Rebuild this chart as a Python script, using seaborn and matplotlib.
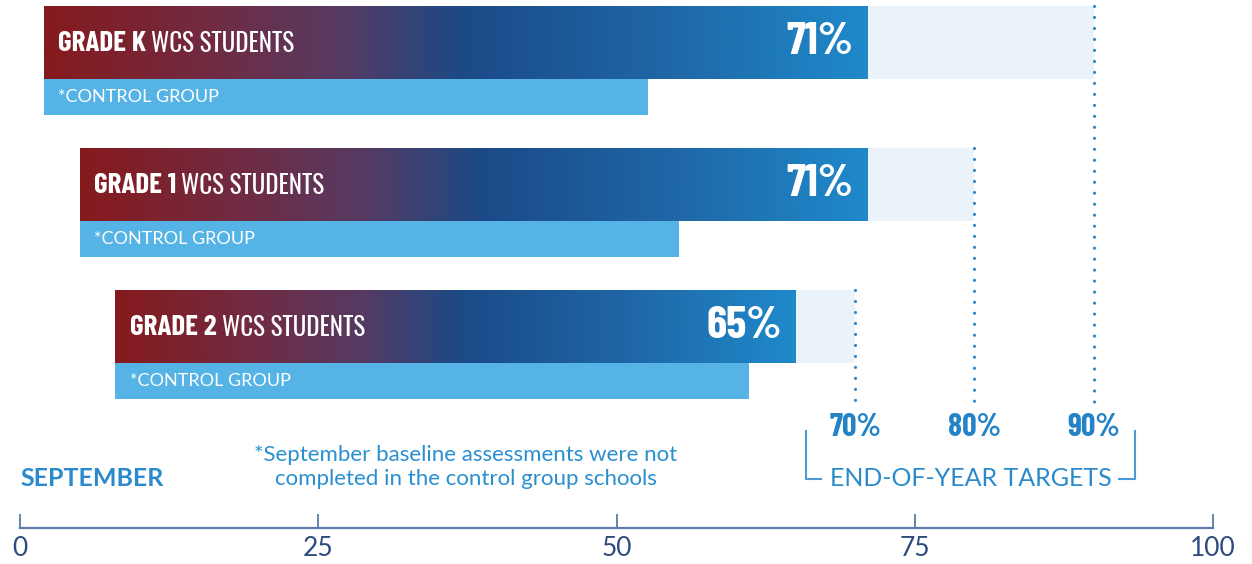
import numpy as np
import pandas as pd
import seaborn as sns
import matplotlib
matplotlib.use("Agg")
import matplotlib.pyplot as plt
from matplotlib import font_manager
from matplotlib.colors import LinearSegmentedColormap

# ---- data ----
grades = ["GRADE K", "GRADE 1", "GRADE 2"]
sept_start = [2, 5, 8]            # September baseline (bar start)
wcs_eoy = [71, 71, 65]            # WCS students end-of-year
targets = [90, 80, 70]            # end-of-year targets
control_eoy = [52.6, 55.2, 61.1]  # control group
xticks = [0, 25, 50, 75, 100]

sns.set_theme(style="white")
plt.rcParams["lines.scale_dashes"] = False

fl = font_manager.fontManager.ttflist
names = {f.name for f in fl}
def weights(n):
    out = set()
    for f in fl:
        if f.name == n:
            try:
                out.add(int(f.weight))
            except Exception:
                pass
    return out

def pick(cands):
    for c in cands:
        if c in names:
            return c
    return "DejaVu Sans"

BOLDC = None
for c in ["Oswald", "Oswald SemiBold", "Oswald Medium", "Barlow Condensed", "Roboto Condensed"]:
    if c in names and (max(weights(c) or {0}) >= 600 or c in ("Oswald SemiBold", "Oswald Medium")):
        BOLDC = c
        break
if BOLDC is None:
    BOLDC = pick(["Oswald", "Liberation Sans Narrow"])
REGC = pick(["Oswald", "Barlow Condensed", "Roboto Condensed"])
BODY = pick(["Gill Sans", "Gill Sans MT", "Lato"])
plt.rcParams["font.family"] = [BODY, "DejaVu Sans"]
BF = [BOLDC, "DejaVu Sans"]
RF = [REGC, "DejaVu Sans"]

BLUE = "#2a8acb"
fig = plt.figure(figsize=(12.52, 5.64), dpi=100)
W, H = 1252, 564
ax = fig.add_axes([20 / W, 36 / H, 1193 / W, 528 / H])
ax.set_xlim(0, 100)
ax.set_ylim(528, 0)

main_y = [42.5, 184.5, 326.5]
ctrl_y = [97, 239, 381]
main_h, ctrl_h = 73, 36

cmap = LinearSegmentedColormap.from_list(
    "grad",
    [(0.0, "#861a1d"), (0.2, "#712b42"), (0.36, "#563a62"),
     (0.51, "#1b4a87"), (0.75, "#1f66a6"), (1.0, "#1f89ca")])
grad = np.linspace(0, 1, 512).reshape(1, -1)

for i, g in enumerate(grades):
    s, w, t, c = sept_start[i], wcs_eoy[i], targets[i], control_eoy[i]
    y = main_y[i]
    ax.barh(y, t - s, left=s, height=main_h, color="#eaf2fa", linewidth=0, zorder=1)
    patch = ax.barh(y, w - s, left=s, height=main_h, color="none", linewidth=0, zorder=2)[0]
    im = ax.imshow(grad, extent=(s, w, y + main_h / 2, y - main_h / 2),
                   aspect="auto", cmap=cmap, zorder=2, interpolation="bilinear")
    im.set_clip_path(patch)
    ax.barh(ctrl_y[i], c - s, left=s, height=ctrl_h, color="#55b3e6", linewidth=0, zorder=2)
    ax.plot([t, t], [y - main_h / 2, 402], color="#2a88cc", lw=2.3,
            linestyle=(0, (0.01, 7.9)), dash_capstyle="round", zorder=3)
    t1 = ax.annotate(g, xy=(s, y + 1), xytext=(10.5, 0), textcoords="offset points",
                     ha="left", va="center", color="white", fontsize=21,
                     fontweight="bold", family=BF, zorder=4)
    ax.annotate("WCS STUDENTS", xy=(1, 0.5), xycoords=t1, xytext=(3.5, 0),
                textcoords="offset points", ha="left", va="center", color="white",
                fontsize=18, fontweight="light", family=RF, zorder=4)
    ax.annotate(f"{w}%", xy=(w, y), xytext=(-10, 0), textcoords="offset points",
                ha="right", va="center", color="white", fontsize=33,
                fontweight="bold", family=BF, zorder=4)
    ax.annotate("*CONTROL GROUP", xy=(s, ctrl_y[i]), xytext=(10.5, 0),
                textcoords="offset points", ha="left", va="center", color="white",
                fontsize=13, zorder=4)
    ax.text(t, 428, f"{t}%", ha="center", va="center", color="#2383c6",
            fontsize=23, fontweight="bold", family=BF, clip_on=False)

def px(xp):
    return (xp - 20) / 11.93

ax.text(0, 479, "SEPTEMBER", ha="left", va="center", color=BLUE, fontsize=18,
        fontweight="bold", clip_on=False)
ax.text(px(466), 467, "*September baseline assessments were not\ncompleted in the control group schools",
        ha="center", va="center", color="#2a8fd0", fontsize=16, linespacing=1.2)
ax.text(px(970.5), 479, "END-OF-YEAR TARGETS", ha="center", va="center",
        color=BLUE, fontsize=18)
bc = "#4a9bd4"
ax.plot([px(806), px(806), px(822)], [430, 479, 479], color=bc, lw=1.5, solid_capstyle="butt")
ax.plot([px(1118), px(1135), px(1135)], [479, 479, 430], color=bc, lw=1.5, solid_capstyle="butt")

sns.despine(ax=ax, left=True, top=True, right=True, bottom=False)
ax.spines["bottom"].set_color("#5b7bab")
ax.spines["bottom"].set_linewidth(1.6)
ax.set_xticks(xticks)
ax.set_xticklabels([str(v) for v in xticks])
ax.set_yticks([])
ax.tick_params(axis="x", direction="in", length=10, width=1.3, color="#5b7bab",
               labelsize=19, labelcolor="#2d4b7e", pad=6, bottom=True)
ax.grid(False)
ax.set_facecolor("none")

fig.savefig("out.png", dpi=100)
